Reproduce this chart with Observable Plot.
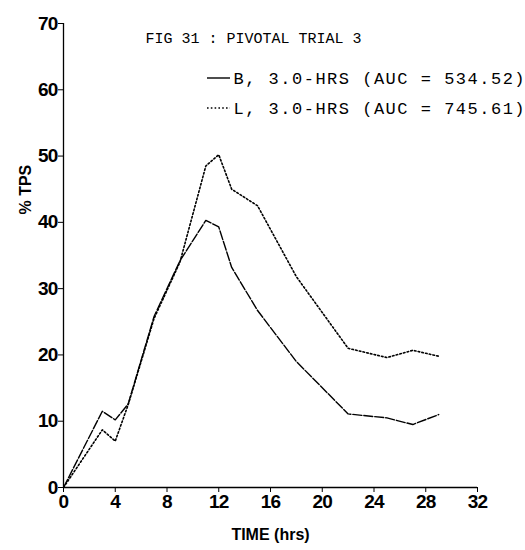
<!DOCTYPE html>
<html><head><meta charset="utf-8">
<script src="https://cdn.jsdelivr.net/npm/d3@7"></script>
<script src="https://cdn.jsdelivr.net/npm/@observablehq/plot@0.6"></script>
<style>body{margin:0;background:#fff} svg{display:block}</style>
</head><body><div id="chart"></div>
<script>
const times = [0, 3, 4, 5, 7, 9, 11, 12, 13, 15, 18, 22, 25, 27, 29];
const seriesB = [0, 11.5, 10.2, 12.6, 25.8, 34.2, 40.3, 39.3, 33.2, 26.7, 19.0, 11.1, 10.5, 9.5, 11.0];
const seriesL = [0, 8.7, 7.0, 12.5, 25.5, 34.0, 48.5, 50.2, 45.0, 42.5, 31.8, 21.0, 19.6, 20.7, 19.8];
const xTicks = [0, 4, 8, 12, 16, 20, 24, 28, 32];
const yTicks = [0, 10, 20, 30, 40, 50, 60, 70];
const title = "FIG 31 : PIVOTAL TRIAL 3";
const legendLabels = ["B, 3.0-HRS (AUC = 534.52)", "L, 3.0-HRS (AUC = 745.61)"];
const xLabel = "TIME (hrs)";
const yLabel = "% TPS";

const dataB = times.map((t, i) => ({t, v: seriesB[i]}));
const dataL = times.map((t, i) => ({t, v: seriesL[i]}));

const sans = "'Liberation Sans', Arial, sans-serif";
const mono = "'Liberation Mono', 'Courier New', monospace";

const chart = Plot.plot({
  width: 525, height: 550,
  marginLeft: 63, marginRight: 48, marginTop: 23, marginBottom: 63,
  style: {background: "#fff", color: "#000", fontFamily: sans},
  x: {domain: [0, 32], ticks: xTicks, tickSize: 5, tickPadding: 2, label: null},
  y: {domain: [0, 70], ticks: yTicks, tickSize: 5, tickPadding: 1, label: null},
  marks: [
    Plot.axisX({ticks: xTicks, tickSize: 5, tickPadding: 2, fontSize: 19, fontWeight: "bold", label: null}),
    Plot.axisY({ticks: yTicks, tickSize: 5, tickPadding: 1, fontSize: 19, fontWeight: "bold", label: null}),
    Plot.ruleX([0], {stroke: "#000", strokeWidth: 1.3}),
    Plot.ruleY([0], {stroke: "#000", strokeWidth: 1.3}),
    Plot.line(dataB, {x: "t", y: "v", stroke: "#000", strokeWidth: 1.4, strokeDasharray: "9,2"}),
    Plot.line(dataL, {x: "t", y: "v", stroke: "#000", strokeWidth: 1.6, strokeDasharray: "1.6,2.2"}),
    Plot.text([title], {frameAnchor: "top-left", dx: 82, dy: 15, textAnchor: "start", lineAnchor: "middle", fontFamily: mono, fontSize: 15, fill: "#000"}),
    Plot.text([legendLabels[0]], {frameAnchor: "top-left", dx: 170, dy: 55, textAnchor: "start", lineAnchor: "middle", fontFamily: mono, fontSize: 17, fill: "#000"}),
    Plot.text([legendLabels[1]], {frameAnchor: "top-left", dx: 170, dy: 85, textAnchor: "start", lineAnchor: "middle", fontFamily: mono, fontSize: 17, fill: "#000"}),
    Plot.text([xLabel], {frameAnchor: "bottom", dy: 47, lineAnchor: "middle", fontSize: 16, fontWeight: "bold", fill: "#000"}),
    Plot.text([yLabel], {frameAnchor: "left", dx: -38, dy: -41, rotate: -90, lineAnchor: "middle", fontSize: 16, fontWeight: "bold", fill: "#000"})
  ]
});

const svg = d3.select(chart);
svg.selectAll("text").filter(function() { return legendLabels.includes(this.textContent); }).attr("letter-spacing", 1.5);
svg.selectAll("text").filter(function() { return /^\d+$/.test(this.textContent); }).attr("letter-spacing", -0.8);
const g = svg.append("g").attr("stroke", "#000");
g.append("line").attr("x1", 207).attr("x2", 230).attr("y1", 78).attr("y2", 78).attr("stroke-width", 1.4);
g.append("line").attr("x1", 207).attr("x2", 230).attr("y1", 108).attr("y2", 108).attr("stroke-width", 1.6).attr("stroke-dasharray", "1.6,2.2");

document.getElementById("chart").appendChild(chart);
</script>
</body></html>
